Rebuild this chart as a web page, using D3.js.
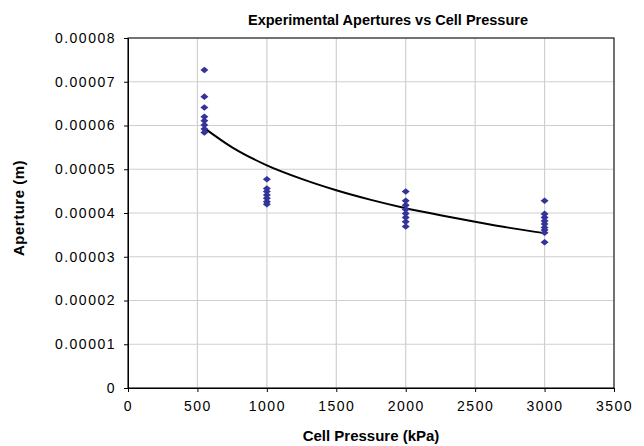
<!DOCTYPE html>
<html>
<head>
<meta charset="utf-8">
<title>Experimental Apertures vs Cell Pressure</title>
<script src="https://d3js.org/d3.v7.min.js"></script>
<style>
  html, body { margin: 0; padding: 0; background: #fff; }
  svg { font-family: "Liberation Sans", Arial, sans-serif; }
</style>
</head>
<body>
<svg id="chart" width="644" height="446"></svg>
<script>
// measured apertures (m) per cell pressure (kPa)
var p550 = [7.27e-5, 6.66e-5, 6.41e-5, 6.20e-5, 6.11e-5, 6.01e-5, 5.92e-5, 5.84e-5];
var p1000 = [4.77e-5, 4.56e-5, 4.49e-5, 4.41e-5, 4.34e-5, 4.26e-5, 4.20e-5];
var p2000 = [4.49e-5, 4.28e-5, 4.18e-5, 4.08e-5, 3.99e-5, 3.90e-5, 3.80e-5, 3.69e-5];
var p3000 = [4.28e-5, 3.98e-5, 3.90e-5, 3.82e-5, 3.75e-5, 3.67e-5, 3.61e-5, 3.55e-5, 3.33e-5];
var pressures = [550, 1000, 2000, 3000];

// trend line
var trendX = [550, 750, 1000, 1250, 1500, 1750, 2000, 2250, 2500, 2750, 3000];
var trendY = [5.94e-5, 5.50e-5, 5.09e-5, 4.78e-5, 4.52e-5, 4.30e-5, 4.11e-5, 3.95e-5, 3.80e-5, 3.66e-5, 3.54e-5];

var xTicks = [0, 500, 1000, 1500, 2000, 2500, 3000, 3500];
var yTicks = [0, 0.00001, 0.00002, 0.00003, 0.00004, 0.00005, 0.00006, 0.00007, 0.00008];
var yTickLabels = ["0", "0.00001", "0.00002", "0.00003", "0.00004", "0.00005", "0.00006", "0.00007", "0.00008"];

(function(){
    var left = 128, right = 614, plotTop = 38, bottom = 388;

    var svg = d3.select("#chart");

    var x = d3.scaleLinear().domain([0, 3500]).range([left, right]);
    var y = d3.scaleLinear().domain([0, 0.00008]).range([bottom, plotTop]);

    // gridlines
    svg.append("g")
        .selectAll("line")
        .data(xTicks)
        .join("line")
        .attr("x1", function(d){ return x(d); })
        .attr("x2", function(d){ return x(d); })
        .attr("y1", plotTop)
        .attr("y2", bottom)
        .attr("stroke", "#cfcfcf")
        .attr("stroke-width", 1.2);

    svg.append("g")
        .selectAll("line")
        .data(yTicks)
        .join("line")
        .attr("x1", left)
        .attr("x2", right)
        .attr("y1", function(d){ return y(d); })
        .attr("y2", function(d){ return y(d); })
        .attr("stroke", "#cfcfcf")
        .attr("stroke-width", 1.2);

    // plot frame
    svg.append("rect")
        .attr("x", left)
        .attr("y", plotTop)
        .attr("width", right - left)
        .attr("height", bottom - plotTop)
        .attr("fill", "none")
        .attr("stroke", "#000")
        .attr("stroke-width", 1);

    // axes
    var xAxis = d3.axisBottom(x).tickValues(xTicks).tickSize(4).tickSizeOuter(0).tickPadding(9)
        .tickFormat(d3.format("d"));
    var yAxis = d3.axisLeft(y).tickValues(yTicks).tickSize(4).tickSizeOuter(0).tickPadding(8)
        .tickFormat(function(d, i){ return yTickLabels[i]; });

    var gx = svg.append("g").attr("transform", "translate(0," + bottom + ")").call(xAxis);
    var gy = svg.append("g").attr("transform", "translate(" + left + ",0)").call(yAxis);
    [gx, gy].forEach(function(g){
        g.attr("font-size", 14).attr("font-family", "'Liberation Sans', Arial, sans-serif");
        g.select(".domain").attr("stroke", "#000");
        g.selectAll(".tick line").attr("stroke", "#000");
        g.selectAll("text").attr("fill", "#000").attr("letter-spacing", "1.5px");
    });

    // trend line
    var line = d3.line()
        .x(function(d){ return x(d[0]); })
        .y(function(d){ return y(d[1]); })
        .curve(d3.curveMonotoneX);

    svg.append("path")
        .datum(d3.zip(trendX, trendY))
        .attr("d", line)
        .attr("fill", "none")
        .attr("stroke", "#000")
        .attr("stroke-width", 2);

    // data points
    var points = [];
    [p550, p1000, p2000, p3000].forEach(function(arr, i){
        arr.forEach(function(v){ points.push([pressures[i], v]); });
    });

    svg.append("g")
        .selectAll("path")
        .data(points)
        .join("path")
        .attr("transform", function(d){ return "translate(" + x(d[0]) + "," + y(d[1]) + ")"; })
        .attr("d", "M0,-3.3L4,0L0,3.3L-4,0Z")
        .attr("fill", "#333399");

    // titles
    svg.append("text")
        .attr("x", 388)
        .attr("y", 25)
        .attr("text-anchor", "middle")
        .attr("font-size", 14.5)
        .attr("font-weight", "bold")
        .text("Experimental Apertures vs Cell Pressure");

    svg.append("text")
        .attr("x", (left + right) / 2)
        .attr("y", 441)
        .attr("text-anchor", "middle")
        .attr("font-size", 15)
        .attr("font-weight", "bold")
        .text("Cell Pressure (kPa)");

    svg.append("text")
        .attr("transform", "translate(24,208) rotate(-90)")
        .attr("text-anchor", "middle")
        .attr("font-size", 15)
        .attr("font-weight", "bold")
        .attr("letter-spacing", "0.5px")
        .text("Aperture (m)");
})();
</script>
</body>
</html>
